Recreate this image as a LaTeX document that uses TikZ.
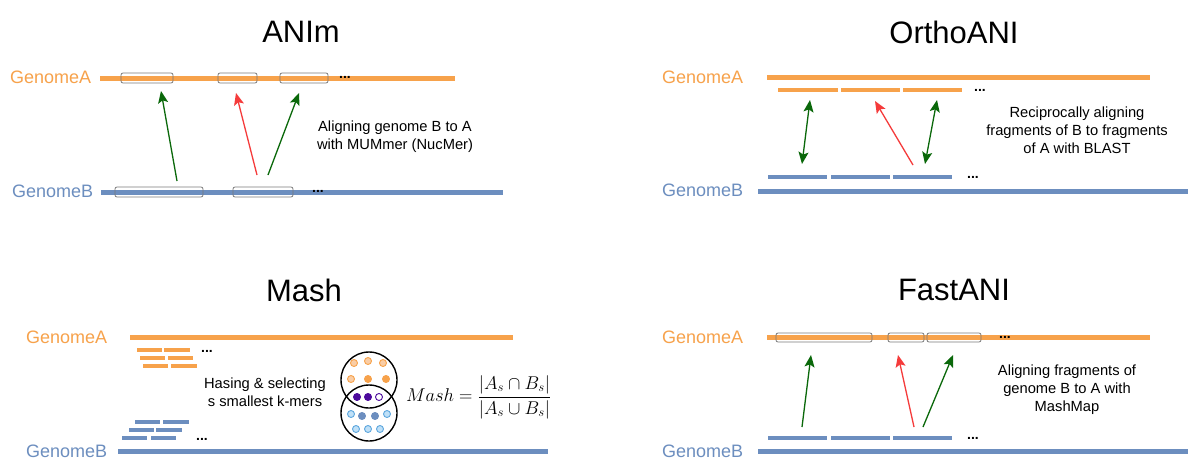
\documentclass[tikz,border=0pt]{standalone}
\usepackage[no-math]{fontspec}
\setmainfont{Liberation Sans}
\usetikzlibrary{arrows.meta}
\definecolor{gorange}{HTML}{F7A24B}
\definecolor{gblue}{HTML}{6C8EBF}
\definecolor{agreen}{HTML}{0A680A}
\definecolor{ared}{HTML}{F53B3B}
\definecolor{lorange}{HTML}{F9CDA6}
\definecolor{purp}{HTML}{4C0A9C}
\definecolor{lblue}{HTML}{BFE0F7}
\definecolor{sblue}{HTML}{5EA7DE}
\definecolor{boxgray}{HTML}{7A7A7A}
\begin{document}
\begin{tikzpicture}[x=1pt,y=-1pt,
  ttl/.style={font=\fontsize{31}{36}\selectfont, inner sep=0pt},
  glabA/.style={font=\fontsize{18}{22}\selectfont, text=gorange, anchor=west, inner sep=0pt},
  glabB/.style={font=\fontsize{18}{22}\selectfont, text=gblue, anchor=west, inner sep=0pt},
  desc/.style={font=\fontsize{14.7}{18}\selectfont, align=center, inner sep=0pt},
  dotsn/.style={font=\fontsize{14}{16}\selectfont\bfseries, anchor=base, inner sep=0pt},
  lineA/.style={draw=gorange, line width=5pt},
  lineB/.style={draw=gblue, line width=5pt},
  fragA/.style={draw=gorange, line width=4pt},
  fragB/.style={draw=gblue, line width=4pt},
  segbox/.style={draw=boxgray, line width=0.8pt, rounded corners=2pt},
  garrow/.style={draw=agreen, line width=1.3pt, -{Stealth[length=12pt,width=10pt,inset=2.5pt]}},
  rarrow/.style={draw=ared, line width=1.3pt, -{Stealth[length=12pt,width=10pt,inset=2.5pt]}},
  gdarrow/.style={draw=agreen, line width=1.3pt, {Stealth[length=12pt,width=10pt,inset=2.5pt]}-{Stealth[length=12pt,width=10pt,inset=2.5pt]}},
  dotO/.style={circle, inner sep=0pt, minimum size=7pt, line width=0.9pt, draw=gorange, fill=lorange},
  dotOf/.style={circle, inner sep=0pt, minimum size=7pt, line width=0.9pt, draw=gorange, fill=gorange},
  dotP/.style={circle, inner sep=0pt, minimum size=7pt, line width=0.9pt, draw=purp, fill=purp},
  dotPo/.style={circle, inner sep=0pt, minimum size=7pt, line width=0.9pt, draw=purp, fill=white},
  dotB/.style={circle, inner sep=0pt, minimum size=7pt, line width=0.9pt, draw=sblue, fill=lblue},
  dotBf/.style={circle, inner sep=0pt, minimum size=7pt, line width=0.9pt, draw=gblue, fill=gblue},
]
\useasboundingbox[fill=white] (0,0) rectangle (1200,472);

%% ================= ANIm =================
\node[ttl] (t1) at (301,32) {ANIm};
\node[glabA] (anA) at (10,77) {GenomeA};
\node[glabB] (anB) at (12,191) {GenomeB};
\draw[lineA] (100,78) -- (455,78);
\draw[lineB] (101,192) -- (503,192);
\draw[segbox] (121,73) rectangle (173,83);
\draw[segbox] (218,73) rectangle (257,83);
\draw[segbox] (280,73) rectangle (328,83);
\draw[segbox] (115,187) rectangle (203,197);
\draw[segbox] (233,187) rectangle (293,197);
\node[dotsn] (and1) at (345,78) {...};
\node[dotsn] (and2) at (318,192) {...};
\coordinate (an1s) at (177,181); \coordinate (an1e) at (161,91);
\coordinate (an2s) at (257,175); \coordinate (an2e) at (236,93);
\coordinate (an3s) at (268,175); \coordinate (an3e) at (299,93);
\draw[garrow] (an1s) -- (an1e);
\draw[rarrow] (an2s) -- (an2e);
\draw[garrow] (an3s) -- (an3e);
\node[desc] (and) at (395,137) {Aligning genome B to A\\with MUMmer (NucMer)};

%% ================= OrthoANI =================
\node[ttl] (t2) at (954,32) {OrthoANI};
\node[glabA] (orA) at (662,77) {GenomeA};
\node[glabB] (orB) at (662,190) {GenomeB};
\draw[lineA] (767,77) -- (1150,77);
\draw[lineB] (758,191) -- (1188,191);
\draw[fragA] (778,90) -- (838,90);
\draw[fragA] (841,90) -- (900,90);
\draw[fragA] (903,90) -- (962,90);
\draw[fragB] (768,177) -- (827,177);
\draw[fragB] (831,177) -- (890,177);
\draw[fragB] (893,177) -- (952,177);
\node[dotsn] (ord1) at (980,91) {...};
\node[dotsn] (ord2) at (973,178) {...};
\coordinate (or1s) at (802,164); \coordinate (or1e) at (810,100);
\coordinate (or2s) at (925,164); \coordinate (or2e) at (937,100);
\coordinate (or3s) at (913,165); \coordinate (or3e) at (875,101);
\draw[gdarrow] (or1s) -- (or1e);
\draw[gdarrow] (or2s) -- (or2e);
\draw[rarrow] (or3s) -- (or3e);
\node[desc] (ord) at (1077,130) {Reciprocally aligning\\fragments of B to fragments\\of A with BLAST};

%% ================= Mash =================
\node[ttl] (t3) at (304,290) {Mash};
\node[glabA] (maA) at (26,337) {GenomeA};
\node[glabB] (maB) at (26,451) {GenomeB};
\draw[lineA] (130,337) -- (513,337);
\draw[lineB] (118,451) -- (548,451);
\draw[fragA] (137,350) -- (162,350);
\draw[fragA] (164,350) -- (190,350);
\draw[fragA] (140,358) -- (165,358);
\draw[fragA] (168,358) -- (193,358);
\draw[fragA] (143,366) -- (168,366);
\draw[fragA] (171,366) -- (197,366);
\draw[fragB] (135,422) -- (160,422);
\draw[fragB] (163,422) -- (189,422);
\draw[fragB] (129,430) -- (154,430);
\draw[fragB] (156,430) -- (182,430);
\draw[fragB] (122,438) -- (147,438);
\draw[fragB] (151,438) -- (176,438);
\node[dotsn] (mad1) at (207,352) {...};
\node[dotsn] (mad2) at (202,440) {...};
\node[desc] (mad) at (265,392) {Hasing \& selecting\\s smallest k-mers};
\node[circle, draw=black, line width=1.4pt, minimum size=56pt, inner sep=0pt] (cA) at (369,380) {};
\node[circle, draw=black, line width=1.4pt, minimum size=56pt, inner sep=0pt] (cB) at (369,413) {};
\node[dotO] (o1) at (354,363) {};
\node[dotO] (o2) at (368,361) {};
\node[dotO] (o3) at (383,363) {};
\node[dotO] (o4) at (351,379) {};
\node[dotOf] (o5) at (368,379) {};
\node[dotOf] (o6) at (386,379) {};
\node[dotP] (p1) at (357,397) {};
\node[dotP] (p2) at (368,397) {};
\node[dotPo] (p3) at (379,397) {};
\node[dotB] (b1) at (351,414) {};
\node[dotBf] (b2) at (362,416) {};
\node[dotBf] (b3) at (375,416) {};
\node[dotB] (b4) at (387,414) {};
\node[dotB] (b5) at (356,429) {};
\node[dotB] (b6) at (368,429) {};
\node[dotB] (b7) at (380,429) {};
\node[anchor=west, inner sep=0pt, font=\fontsize{17.28}{21}\selectfont] (mform) at (406,397)
  {\scalebox{1.07}{$\displaystyle Mash=\frac{|A_s\cap B_s|}{|A_s\cup B_s|}$}};

%% ================= FastANI =================
\node[ttl] (t4) at (954,290) {FastANI};
\node[glabA] (faA) at (662,337) {GenomeA};
\node[glabB] (faB) at (662,451) {GenomeB};
\draw[lineA] (767,337) -- (1150,337);
\draw[lineB] (758,451) -- (1188,451);
\draw[segbox] (776,333) rectangle (872,342);
\draw[segbox] (888,333) rectangle (924,342);
\draw[segbox] (927,333) rectangle (981,342);
\draw[fragB] (768,438) -- (827,438);
\draw[fragB] (831,438) -- (890,438);
\draw[fragB] (893,438) -- (952,438);
\node[dotsn] (fad1) at (1005,338) {...};
\node[dotsn] (fad2) at (973,439) {...};
\coordinate (fa1s) at (802,427); \coordinate (fa1e) at (811,355);
\coordinate (fa2s) at (914,427); \coordinate (fa2e) at (898,355);
\coordinate (fa3s) at (923,427); \coordinate (fa3e) at (953,355);
\draw[garrow] (fa1s) -- (fa1e);
\draw[rarrow] (fa2s) -- (fa2e);
\draw[garrow] (fa3s) -- (fa3e);
\node[desc] (fad) at (1067,390) {Aligning fragments of\\genome B to A with\\MashMap};
\end{tikzpicture}
\end{document}
